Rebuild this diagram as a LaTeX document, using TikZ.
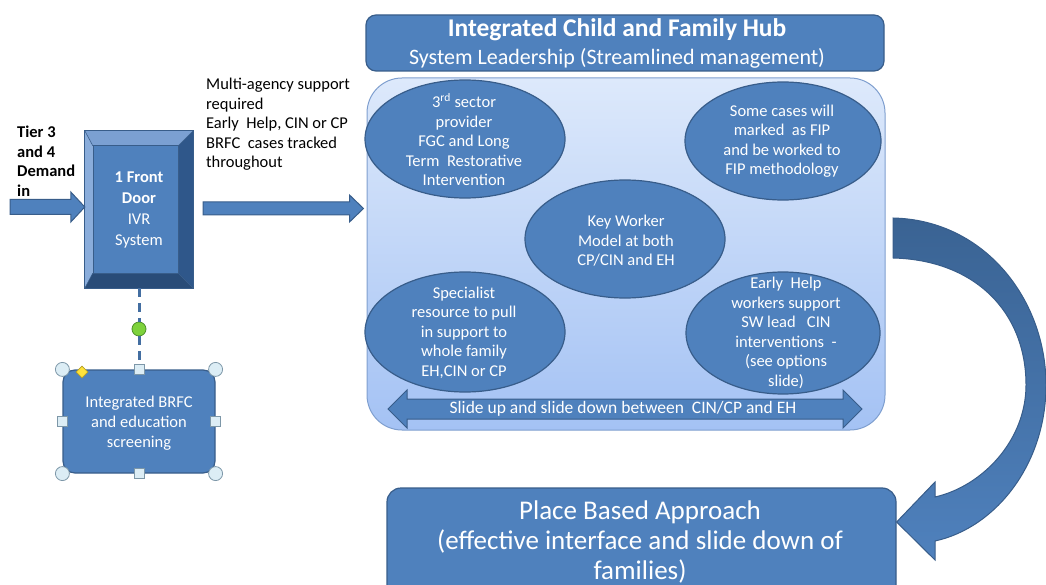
\documentclass[tikz,border=0pt]{standalone}
\usepackage{fontspec}
\setmainfont{Carlito}
\usetikzlibrary{shapes.geometric,calc}
\definecolor{fillblue}{HTML}{4F81BD}
\definecolor{edgeblue}{HTML}{385D8A}
\definecolor{hubtop}{HTML}{DDE9FB}
\definecolor{hubbot}{HTML}{A4C2F4}
\definecolor{hubedge}{HTML}{7F9FCF}
\definecolor{bevtop}{HTML}{7BA0D2}
\definecolor{bevleft}{HTML}{8AADDB}
\definecolor{bevright}{HTML}{2F578A}
\definecolor{bevbot}{HTML}{294C78}
\definecolor{curvetop}{HTML}{3A6393}
\definecolor{handlefill}{HTML}{DCEDF5}
\definecolor{handleedge}{HTML}{7D97A8}
\definecolor{greenh}{HTML}{7ED23C}
\definecolor{greenedge}{HTML}{4E8F2A}
\definecolor{yellowh}{HTML}{FFE23A}
\newcommand\harrowshape[5]{%
  \draw[blockarr] let \p1=(#1), \p2=(#2) in
   (\x1,\y1+#3) -- (\x2-#5,\y1+#3) -- (\x2-#5,\y1+#4) -- (\x2,\y1) --
   (\x2-#5,\y1-#4) -- (\x2-#5,\y1-#3) -- (\x1,\y1-#3) -- cycle;}
\newcommand\dharrowshape[5]{%
  \draw[blockarr] let \p1=(#1), \p2=(#2) in
   (\x1,\y1) -- (\x1+#5,\y1+#4) -- (\x1+#5,\y1+#3) -- (\x2-#5,\y1+#3) --
   (\x2-#5,\y1+#4) -- (\x2,\y1) -- (\x2-#5,\y1-#4) -- (\x2-#5,\y1-#3) --
   (\x1+#5,\y1-#3) -- (\x1+#5,\y1-#4) -- cycle;}
\begin{document}
\begin{tikzpicture}[x=1pt,y=-1pt,
  blue/.style={fill=fillblue, draw=edgeblue, line width=1.2pt},
  ell/.style={ellipse, blue, minimum width=200pt, minimum height=118pt, inner sep=0pt},
  wtxt/.style={text=white, align=center, inner sep=0pt, font=\fontsize{16.5}{19.5}\selectfont},
  btxt/.style={text=black, align=left, inner sep=0pt, font=\fontsize{16.5}{19.5}\selectfont},
  blockarr/.style={fill=fillblue, draw=edgeblue, line width=1pt, line join=miter},
  handlec/.style={circle, fill=handlefill, draw=handleedge, line width=0.8pt, minimum size=14pt, inner sep=0pt},
  handles/.style={rectangle, fill=handlefill, draw=handleedge, line width=0.8pt, minimum size=10pt, inner sep=0pt},
  linkdash/.style={draw=fillblue!85!black, line width=3pt, dash pattern=on 9pt off 6pt}
]
\useasboundingbox (0,0) rectangle (1046,585);
\clip (0,0) rectangle (1046,585);

% ---------- title ----------
\node[blue, rounded corners=10pt, minimum width=518pt, minimum height=56pt] (title) at (625,43) {};
\node[wtxt, font=\fontsize{25.5}{28}\selectfont\bfseries] (title1) at (617,30) {Integrated Child and Family Hub};
\node[wtxt, font=\fontsize{22}{25}\selectfont] (title2) at (617,58) {System Leadership (Streamlined management)};

% ---------- hub ----------
\node[top color=hubtop, bottom color=hubbot, draw=hubedge, line width=1pt, rounded corners=35pt,
      minimum width=518pt, minimum height=352pt] (hub) at (626,254) {};

\node[ell] (e1) at (465,139) {};
\node[ell, minimum width=196pt] (e2) at (783,141) {};
\node[ell] (e3) at (625,239) {};
\node[ell, minimum height=120pt] (e4) at (465,332) {};
\node[ell, minimum width=194pt, minimum height=122pt] (e5) at (783,333) {};

\node[wtxt] (t1) at (464,139.5) {3\textsuperscript{rd} sector\\provider\\FGC and Long\\Term\ \ Restorative\\Intervention};
\node[wtxt] (t2) at (782,141) {Some cases will\\marked\ \ as FIP\\and be worked to\\FIP methodology};
\node[wtxt] (t3) at (626,241) {Key Worker\\Model at both\\CP/CIN and EH};
\node[wtxt] (t4) at (464,332.5) {Specialist\\resource to pull\\in support to\\whole family\\EH,CIN or CP};
\node[wtxt] (t5) at (786,333) {Early\ \ Help\\workers support\\SW lead\ \ \ CIN\\interventions\ \ -\\(see options\\slide)};

% slide arrow
\coordinate (sl) at (388,409);
\coordinate (sr) at (862,409);
\dharrowshape{sl}{sr}{10pt}{19pt}{19pt}
\node[wtxt, font=\fontsize{17.5}{20}\selectfont] (slidetxt) at ($(sl)!0.5!(sr)+(-2,0)$) {Slide up and slide down between\ \ CIN/CP and EH};

% ---------- front door ----------
\path node[minimum width=108pt, minimum height=157pt, inner sep=0pt] (fd) at (139,209.5) {};
\coordinate (fi1) at ($(fd.north west)+(8,15)$);
\coordinate (fi2) at ($(fd.north east)+(-15,15)$);
\coordinate (fi3) at ($(fd.south east)+(-15,-15)$);
\coordinate (fi4) at ($(fd.south west)+(8,-15)$);
\fill[bevtop] (fd.north west) -- (fd.north east) -- (fi2) -- (fi1) -- cycle;
\fill[bevleft] (fd.north west) -- (fi1) -- (fi4) -- (fd.south west) -- cycle;
\fill[bevright] (fd.north east) -- (fd.south east) -- (fi3) -- (fi2) -- cycle;
\fill[bevbot] (fd.south west) -- (fi4) -- (fi3) -- (fd.south east) -- cycle;
\fill[fillblue] (fi1) rectangle (fi3);
\draw[edgeblue, line width=0.6pt] (fd.north west) -- (fi1) (fd.north east) -- (fi2) (fd.south east) -- (fi3) (fd.south west) -- (fi4);
\draw[edgeblue, line width=0.6pt] (fi1) rectangle (fi3);
\draw[edgeblue, line width=1.2pt] (fd.north west) rectangle (fd.south east);
\node[wtxt, font=\fontsize{16.5}{21}\selectfont] (fdtext) at (fd.center) {\textbf{1 Front}\\\textbf{Door}\\IVR\\System};

% texts left
\node[btxt, font=\fontsize{16.5}{19.5}\selectfont\bfseries, anchor=west] (tier) at (17,161) {Tier 3\\and 4\\Demand\\in};
\node[btxt, anchor=west] (multi) at (206,124.5) {Multi-agency support\\required\\Early\ \ Help, CIN or CP\\BRFC\ \ cases tracked\\throughout};

% block arrows
\coordinate (demand) at (10,207);
\harrowshape{demand}{fd.west}{7.5pt}{15pt}{14pt}
\coordinate (ma1) at ($(fd.east)+(10,-1)$);
\coordinate (ma2) at ($(hub.west |- fd.east)+(-3,-1)$);
\harrowshape{ma1}{ma2}{6.5pt}{13.5pt}{14pt}

% ---------- BRFC box ----------
\node[blue, rounded corners=12pt, minimum width=152pt, minimum height=103pt] (brfc) at (139,421.5) {};
\node[wtxt, font=\fontsize{16.5}{20}\selectfont] (brfctxt) at (139,423) {Integrated BRFC\\and education\\screening};
\node[circle, fill=greenh, draw=greenedge, line width=0.8pt, minimum size=14pt, inner sep=0pt] (gh) at (139,329) {};
\draw[linkdash] (fd.south) -- (gh.north);
\draw[linkdash] (gh.south) -- (brfc.north);
\node[handlec] (h1) at (brfc.north west) {};
\node[handlec] (h2) at (brfc.north east) {};
\node[handlec] (h3) at (brfc.south west) {};
\node[handlec] (h4) at (brfc.south east) {};
\node[handles] (h5) at (brfc.north) {};
\node[handles] (h6) at (brfc.south) {};
\node[handles] (h7) at (brfc.west) {};
\node[handles] (h8) at (brfc.east) {};
\node[diamond, fill=yellowh, draw=yellowh!70!black, line width=0.6pt, minimum size=12pt, inner sep=0pt] (yd) at (82,372) {};

% ---------- place based ----------
\node[blue, rounded corners=14pt, minimum width=509pt, minimum height=112pt] (pba) at (641.5,544) {};
\node[wtxt, font=\fontsize{27}{30}\selectfont] (pbatxt) at (640,542) {Place Based Approach\\(effective interface and slide down of\\families)};

% curved arrow
\draw[top color=curvetop, bottom color=fillblue, draw=edgeblue, line width=1pt, line join=miter]
  (893,218) .. controls (985,220) and (1046,300) .. (1046,385)
  .. controls (1046,465) and (995,528) .. (935,541)
  -- (935,560) -- (pba.east |- 0,522) -- (935,482) -- (935,497)
  .. controls (983,486) and (1026,440) .. (1026,385)
  .. controls (1026,312) and (975,260) .. (893,258) -- cycle;
\end{tikzpicture}
\end{document}
